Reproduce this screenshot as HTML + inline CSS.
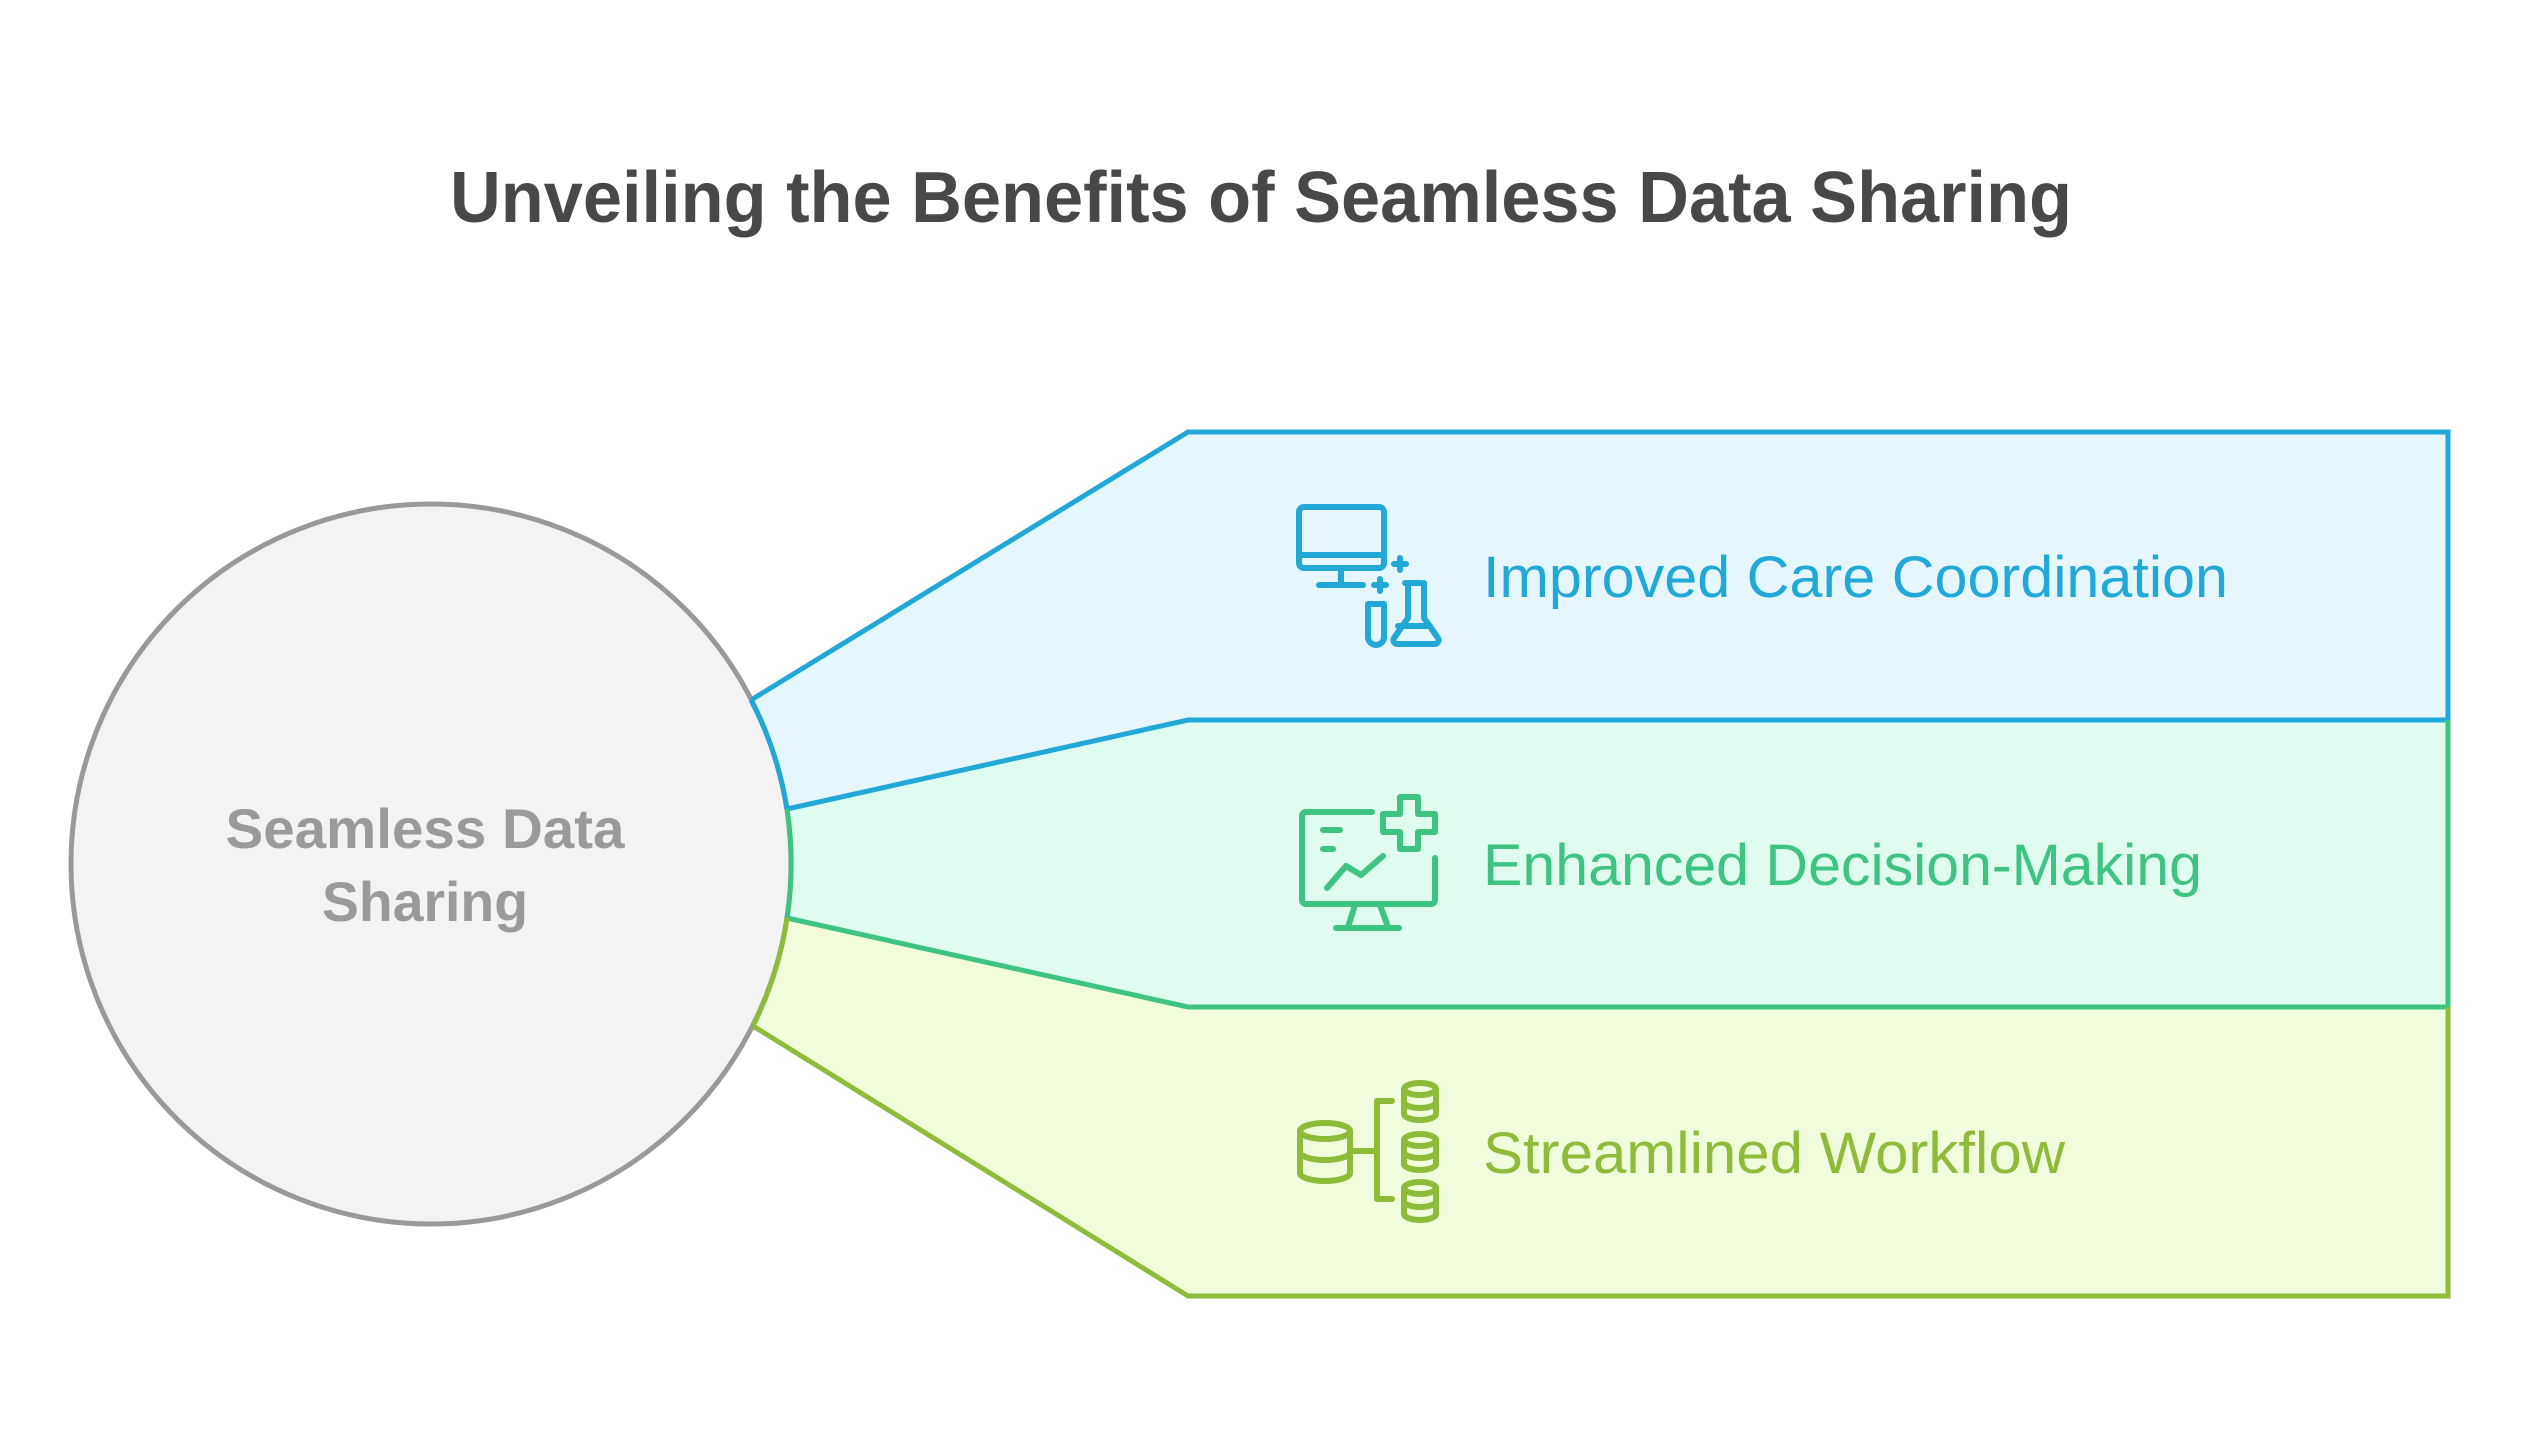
<!DOCTYPE html>
<html><head><meta charset="utf-8"><style>html,body{margin:0;padding:0;background:#fff}svg{display:block}</style></head>
<body>
<svg width="2521" height="1440" viewBox="0 0 2521 1440" xmlns="http://www.w3.org/2000/svg" font-family="'Liberation Sans', sans-serif">
<rect width="2521" height="1440" fill="#fff"/>
<text x="1261" y="222" text-anchor="middle" font-size="72" font-weight="bold" fill="#484848" textLength="1622" lengthAdjust="spacingAndGlyphs">Unveiling the Benefits of Seamless Data Sharing</text>

<!-- panels -->
<path d="M751,700 L1188,432 L2448,432 L2448,720 L1188,720 L787,809 A360,360 0 0 0 751,700 Z" fill="#e5f7fd"/>
<path d="M787,809 L1188,720 L2448,720 L2448,1007 L1188,1007 L787,918 A360,360 0 0 0 787,809 Z" fill="#e0fcf0"/>
<path d="M787,918 L1188,1007 L2448,1007 L2448,1296 L1188,1296 L753,1026 A360,360 0 0 0 787,918 Z" fill="#f1fcdc"/>

<circle cx="431" cy="864" r="360" fill="#f3f3f3" stroke="#999" stroke-width="5"/>

<path d="M751,700 L1188,432 L2448,432 L2448,720" fill="none" stroke="#22a8d6" stroke-width="5"/>
<path d="M787,809 L1188,720 L2448,720" fill="none" stroke="#22a8d6" stroke-width="5"/>
<path d="M751,700 A360,360 0 0 1 787,809" fill="none" stroke="#22a8d6" stroke-width="5"/>
<path d="M2448,720 L2448,1007" fill="none" stroke="#3fc383" stroke-width="5"/>
<path d="M787,918 L1188,1007 L2448,1007" fill="none" stroke="#3fc383" stroke-width="5"/>
<path d="M787,809 A360,360 0 0 1 787,918" fill="none" stroke="#3fc383" stroke-width="5"/>
<path d="M2448,1007 L2448,1296 L1188,1296 L753,1026" fill="none" stroke="#8fbb3a" stroke-width="5"/>
<path d="M787,918 A360,360 0 0 1 753,1026" fill="none" stroke="#8fbb3a" stroke-width="5"/>

<text x="425" y="848" text-anchor="middle" font-size="56" font-weight="bold" fill="#9a9a9a" textLength="399" lengthAdjust="spacingAndGlyphs">Seamless Data</text>
<text x="425" y="921" text-anchor="middle" font-size="56" font-weight="bold" fill="#9a9a9a" textLength="206" lengthAdjust="spacingAndGlyphs">Sharing</text>

<text x="1483" y="597" font-size="58" fill="#22a8d6" textLength="745" lengthAdjust="spacingAndGlyphs">Improved Care Coordination</text>
<text x="1483" y="885" font-size="58" fill="#3fc383" textLength="719" lengthAdjust="spacingAndGlyphs">Enhanced Decision-Making</text>
<text x="1483" y="1173" font-size="58" fill="#8fbb3a" textLength="582" lengthAdjust="spacingAndGlyphs">Streamlined Workflow</text>

<!-- icon 1 -->
<g fill="none" stroke="#22a8d6" stroke-width="6" stroke-linecap="round" stroke-linejoin="round">
<rect x="1299" y="507" width="85" height="61" rx="5"/>
<line x1="1299" y1="555" x2="1384" y2="555"/>
<line x1="1341" y1="568" x2="1341" y2="585"/>
<line x1="1319" y1="585" x2="1363" y2="585"/>
<path d="M1400,558 v12 M1394,564 h12"/>
<path d="M1380,579 v12 M1374,585 h12"/>
<path d="M1368,604 v33 a8,8 0 0 0 16,0 v-33 z"/>
<path d="M1405,583 h16 M1408,583 v35 l-14,20 a4,4 0 0 0 4,6 h36 a4,4 0 0 0 4,-6 l-14,-20 v-35"/>
<line x1="1398" y1="626" x2="1430" y2="626"/>
</g>

<!-- icon 2 -->
<g fill="none" stroke="#3fc383" stroke-width="6" stroke-linecap="round" stroke-linejoin="round">
<path d="M1372,812 H1306 a4,4 0 0 0 -4,4 V900 a4,4 0 0 0 4,4 H1431 a4,4 0 0 0 4,-4 V858"/>
<path d="M1400,797 h18 v17 h17 v18 h-17 v17 h-18 v-17 h-17 v-18 h17 z"/>
<line x1="1323" y1="830" x2="1340" y2="830"/>
<line x1="1323" y1="849" x2="1333" y2="849"/>
<polyline points="1327,888 1346,866 1361,875 1383,856"/>
<line x1="1355" y1="905" x2="1348" y2="927"/>
<line x1="1380" y1="905" x2="1388" y2="927"/>
<line x1="1336" y1="928" x2="1399" y2="928"/>
</g>

<!-- icon 3 -->
<g fill="none" stroke="#8fbb3a" stroke-width="6" stroke-linecap="round" stroke-linejoin="round">
<ellipse cx="1325" cy="1131" rx="25" ry="8"/>
<path d="M1300,1131 v42 a25,8 0 0 0 50,0 v-42"/>
<path d="M1300,1152 a25,8 0 0 0 50,0"/>
<line x1="1352" y1="1151" x2="1375" y2="1151"/>
<path d="M1392,1101 h-15 v98 h15"/>
<ellipse cx="1420" cy="1089" rx="16" ry="6"/>
<path d="M1404,1089 v25 a16,6 0 0 0 32,0 v-25 M1404,1102 a16,6 0 0 0 32,0"/>
<ellipse cx="1420" cy="1140" rx="16" ry="6"/>
<path d="M1404,1140 v24 a16,6 0 0 0 32,0 v-24 M1404,1152 a16,6 0 0 0 32,0"/>
<ellipse cx="1420" cy="1188" rx="16" ry="6"/>
<path d="M1404,1188 v26 a16,6 0 0 0 32,0 v-26 M1404,1201 a16,6 0 0 0 32,0"/>
</g>
</svg>
</body></html>
